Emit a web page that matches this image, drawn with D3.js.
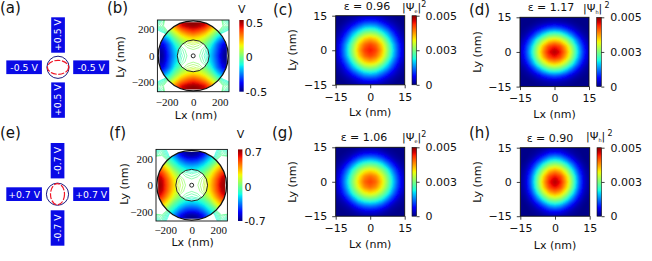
<!DOCTYPE html>
<html>
<head>
<meta charset="utf-8">
<title>Quantum dot gate potentials and wave functions</title>
<script src="https://d3js.org/d3.v7.min.js"></script>
<style>
  html, body { margin: 0; padding: 0; background: #fff; }
  svg { display: block; }
  text { font-family: "DejaVu Sans", sans-serif; fill: #111; }
  .serif text { font-family: "Liberation Serif", serif; }
</style>
</head>
<body>
<svg id="chart" width="652" height="261"></svg>
<script>
// |psi|^2, in units of 0.001, one quadrant only
// rows go 0, 2.5 ... 15 nm in Ly, columns 0, 2.5 ... 15 nm in Lx
let psiC = [
  [4.55, 4.30, 3.65, 2.70, 1.71, 0.85, 0.30],
  [4.30, 4.05, 3.45, 2.55, 1.60, 0.80, 0.28],
  [3.65, 3.45, 2.90, 2.05, 1.25, 0.59, 0.21],
  [2.70, 2.55, 2.05, 1.50, 0.85, 0.36, 0.15],
  [1.71, 1.60, 1.25, 0.85, 0.46, 0.22, 0.08],
  [0.85, 0.80, 0.59, 0.36, 0.22, 0.10, 0.04],
  [0.30, 0.28, 0.21, 0.15, 0.08, 0.04, 0.02]
];
let psiD = [
  [4.85, 4.58, 3.85, 2.89, 1.82, 0.87, 0.29],
  [4.49, 4.24, 3.56, 2.67, 1.61, 0.78, 0.26],
  [3.55, 3.35, 2.82, 2.06, 1.21, 0.51, 0.19],
  [2.40, 2.27, 1.80, 1.22, 0.65, 0.26, 0.11],
  [1.17, 1.05, 0.81, 0.50, 0.26, 0.13, 0.06],
  [0.35, 0.32, 0.25, 0.17, 0.10, 0.05, 0.03],
  [0.11, 0.10, 0.08, 0.06, 0.04, 0.03, 0.02]
];
let psiG = [
  [4.32, 4.09, 3.45, 2.62, 1.69, 0.84, 0.29],
  [4.05, 3.83, 3.23, 2.46, 1.54, 0.76, 0.26],
  [3.34, 3.15, 2.67, 2.03, 1.21, 0.57, 0.20],
  [2.41, 2.29, 1.93, 1.32, 0.74, 0.31, 0.13],
  [1.41, 1.31, 1.06, 0.67, 0.30, 0.16, 0.07],
  [0.58, 0.55, 0.42, 0.24, 0.14, 0.07, 0.04],
  [0.18, 0.17, 0.13, 0.08, 0.06, 0.04, 0.02]
];
let psiH = [
  [4.85, 4.51, 3.63, 2.52, 1.31, 0.45, 0.14],
  [4.56, 4.24, 3.41, 2.37, 1.21, 0.41, 0.13],
  [3.80, 3.53, 2.84, 1.88, 0.93, 0.31, 0.11],
  [2.79, 2.60, 2.00, 1.25, 0.57, 0.19, 0.07],
  [1.73, 1.55, 1.09, 0.62, 0.26, 0.10, 0.04],
  [0.77, 0.69, 0.45, 0.25, 0.13, 0.06, 0.03],
  [0.24, 0.22, 0.16, 0.11, 0.07, 0.03, 0.02]
];

// gate potential in V, one quadrant, rows 0, 45 ... 270 nm in Ly, columns same in Lx
let potB = [
  [ 0.00, -0.02, -0.08, -0.18, -0.31, -0.46, -0.50],
  [ 0.02,  0.00, -0.06, -0.16, -0.29, -0.44, -0.48],
  [ 0.08,  0.06,  0.00, -0.10, -0.26, -0.38, -0.42],
  [ 0.19,  0.16,  0.10,  0.00, -0.14, -0.26, -0.30],
  [ 0.36,  0.32,  0.25,  0.13,  0.00, -0.10, -0.15],
  [ 0.49,  0.47,  0.42,  0.30,  0.15, -0.02, -0.05],
  [ 0.50,  0.50,  0.45,  0.32,  0.16, -0.06, -0.12]
];
let potF = [
  [ 0.00,  0.03,  0.11,  0.26,  0.45,  0.66,  0.70],
  [-0.03,  0.00,  0.09,  0.23,  0.43,  0.63,  0.68],
  [-0.11, -0.08,  0.00,  0.14,  0.33,  0.52,  0.60],
  [-0.25, -0.22, -0.14, -0.02,  0.18,  0.35,  0.42],
  [-0.44, -0.41, -0.31, -0.16, -0.03,  0.16,  0.24],
  [-0.66, -0.62, -0.50, -0.32, -0.15, -0.04, -0.08],
  [-0.70, -0.68, -0.55, -0.38, -0.20, -0.10, -0.18]
];

let psiTicks = [-15, 0, 15];
let potTicks = [-200, 0, 200];
let psiBarTicks = [0, 2.5, 5];
let psiBarLabels = ["0", "0.003", "0.005"];
let linesB = [-0.14, -0.115, -0.092, -0.069, -0.046, -0.023, 0.023, 0.046, 0.069, 0.092, 0.115, 0.14];
let linesF = [-0.2, -0.165, -0.13, -0.1, -0.065, -0.033, 0.033, 0.065, 0.1, 0.13, 0.165, 0.2];
let cornerB = [-0.115, -0.104, -0.093, -0.082, -0.071, -0.06, -0.049, -0.038, -0.027, -0.016];
let cornerF = [-0.17, -0.155, -0.14, -0.125, -0.11, -0.095, -0.08, -0.065, -0.05, -0.035];

// jet colormap
let jet = d3.scaleLinear()
  .domain([0, 0.11, 0.125, 0.35, 0.375, 0.64, 0.66, 0.89, 0.91, 1])
  .range(["#00007f", "#0000f1", "#0000ff", "#00e5f8", "#14ffe2", "#eeff08", "#ffea00", "#ff1e00", "#e80000", "#7f0000"])
  .clamp(true);

let svg = d3.select("#chart");
let defs = svg.append("defs");
defs.append("filter").attr("id", "soft")
  .attr("x", "-5%").attr("y", "-5%").attr("width", "110%").attr("height", "110%")
  .append("feGaussianBlur").attr("stdDeviation", 0.9);
let grad = defs.append("linearGradient").attr("id", "jetbar")
  .attr("x1", 0).attr("x2", 0).attr("y1", 1).attr("y2", 0);
d3.range(0, 1.001, 0.025).forEach(t => {
  grad.append("stop").attr("offset", t).attr("stop-color", jet(t));
});

// quadrant -> full grid, flat array for d3.contours
function mirror(quad) {
  let n = quad.length - 1, out = [];
  for (let j = -n; j <= n; j++) {
    for (let i = -n; i <= n; i++) out.push(quad[Math.abs(j)][Math.abs(i)]);
  }
  return out;
}

// contour units have node k sitting at k + 0.5
function gridPath(x, y, lim, n) {
  let size = 2 * n + 1, step = 2 * lim / (size - 1);
  return d3.geoPath(d3.geoTransform({
    point(a, b) {
      this.stream.point(x(-lim + step * (a - 0.5)), y(lim - step * (b - 0.5)));
    }
  }));
}

function axes(g, x, y, ticks, opt) {
  let xa = g.append("g").attr("transform", "translate(0," + y.range()[0] + ")")
    .call(d3.axisBottom(x).tickValues(ticks).tickFormat(d3.format("d")).tickSizeOuter(0)
      .tickSize(opt.tick).tickPadding(opt.padX));
  let ya = g.append("g").attr("transform", "translate(" + x.range()[0] + ",0)")
    .call(d3.axisLeft(y).tickValues(ticks).tickFormat(d3.format("d")).tickSizeOuter(0)
      .tickSize(opt.tick).tickPadding(opt.padY));
  [xa, ya].forEach(a => {
    a.select(".domain").remove();
    a.selectAll("text").attr("font-size", 11).attr("font-family", null);
    a.selectAll("line").attr("stroke", "#111").attr("stroke-width", 0.8);
  });
  if (opt.serif) { xa.attr("class", "serif"); ya.attr("class", "serif"); }
}

function frame(g, x, y) {
  g.append("rect")
    .attr("x", x.range()[0]).attr("y", y.range()[1])
    .attr("width", x.range()[1] - x.range()[0]).attr("height", y.range()[0] - y.range()[1])
    .attr("fill", "none").attr("stroke", "#111").attr("stroke-width", 0.9);
}

function axisTitles(x0, yL, xB, yB) {
  svg.append("text").attr("x", xB).attr("y", yB).attr("text-anchor", "middle")
    .attr("font-size", 11).text("Lx (nm)");
  svg.append("text").attr("transform", "translate(" + x0 + "," + yL + ") rotate(-90)")
    .attr("text-anchor", "middle").attr("font-size", 11).text("Ly (nm)");
}

// wave function panel
function psiPanel(p) {
  let x = d3.scaleLinear().domain([-15, 15]).range([p.x0, p.x1]);
  let y = d3.scaleLinear().domain([-15, 15]).range([p.y1, p.y0]);
  let id = "clip" + p.id;
  defs.append("clipPath").attr("id", id).append("rect")
    .attr("x", p.x0).attr("y", p.y0).attr("width", p.x1 - p.x0).attr("height", p.y1 - p.y0);

  let g = svg.append("g");
  let heat = g.append("g").attr("clip-path", "url(#" + id + ")").append("g").attr("filter", "url(#soft)");
  let n = p.data.length - 1;
  let path = gridPath(x, y, 15, n);
  let color = d3.scaleLinear().domain([0, 5]).range([0, 1]);
  heat.append("rect").attr("x", p.x0 - 4).attr("y", p.y0 - 4)
    .attr("width", p.x1 - p.x0 + 8).attr("height", p.y1 - p.y0 + 8).attr("fill", jet(0.01));
  let levels = d3.range(0.05, 5, 0.05);
  let cont = d3.contours().size([2 * n + 1, 2 * n + 1]).thresholds(levels)(mirror(p.data));
  heat.selectAll("path").data(cont).join("path")
    .attr("d", path).attr("fill", d => jet(color(d.value)));

  axes(g, x, y, psiTicks, { tick: 3.5, padX: 4.5, padY: 5 });
  frame(g, x, y);

  // colorbar
  let cx = p.bar;
  let bar = d3.scaleLinear().domain([0, 5]).range([p.y1, p.y0]);
  g.append("rect").attr("x", cx).attr("y", p.y0).attr("width", 4.6).attr("height", p.y1 - p.y0)
    .attr("fill", "url(#jetbar)").attr("stroke", "#111").attr("stroke-width", 0.6);
  let ax = g.append("g").attr("transform", "translate(" + (cx + 4.6) + ",0)")
    .call(d3.axisRight(bar).tickValues(psiBarTicks).tickFormat((d, i) => psiBarLabels[i])
      .tickSizeOuter(0).tickSize(3).tickPadding(6));
  ax.select(".domain").remove();
  ax.selectAll("text").attr("font-size", 11);
  ax.selectAll("line").attr("stroke", "#111").attr("stroke-width", 0.8);

  axisTitles(p.lyX, p.lyY, (p.x0 + p.x1) / 2, p.lxY);

  svg.append("text").attr("x", p.titleX).attr("y", p.titleY).attr("text-anchor", "middle")
    .attr("font-size", 11).text(p.title);
  let t = svg.append("text").attr("x", p.psiX).attr("y", p.psiY).attr("font-size", 11);
  t.append("tspan").text("|Ψ");
  t.append("tspan").attr("font-size", 5).attr("dy", 2).text(p.sub);
  t.append("tspan").attr("dy", -2).text("|" + (p.gap ? "\u2009" : ""));
  t.append("tspan").attr("font-size", 8).attr("dy", -4).text("2");
}

// gate potential panel
function potPanel(p) {
  let lim = 270;
  let x = d3.scaleLinear().domain([-lim, lim]).range([p.x0, p.x1]);
  let y = d3.scaleLinear().domain([-lim, lim]).range([p.y1, p.y0]);
  let k = (p.x1 - p.x0) / (2 * lim);
  let cx = x(0), cy = y(0);
  let R = 264 * k, r = 120 * k, dot = 15 * k;
  let circle = rr => "M" + (cx - rr) + "," + cy + "a" + rr + "," + rr + " 0 1,0 " + (2 * rr) + ",0a" + rr + "," + rr + " 0 1,0 " + (-2 * rr) + ",0Z";
  let box = "M" + p.x0 + "," + p.y0 + "H" + p.x1 + "V" + p.y1 + "H" + p.x0 + "Z";

  defs.append("clipPath").attr("id", "fill" + p.id).append("path")
    .attr("clip-rule", "evenodd").attr("d", circle(R) + circle(r));
  defs.append("clipPath").attr("id", "inner" + p.id).append("path").attr("d", circle(r));
  defs.append("clipPath").attr("id", "outer" + p.id).append("path")
    .attr("clip-rule", "evenodd").attr("d", box + circle(R));

  let g = svg.append("g");
  let n = p.data.length - 1;
  let path = gridPath(x, y, lim, n);
  let grid = mirror(p.data);
  let color = d3.scaleLinear().domain([-p.vmax, p.vmax]).range([0, 1]);
  let size = [2 * n + 1, 2 * n + 1];

  let heat = g.append("g").attr("clip-path", "url(#fill" + p.id + ")").append("g").attr("filter", "url(#soft)");
  heat.append("rect").attr("x", p.x0).attr("y", p.y0)
    .attr("width", p.x1 - p.x0).attr("height", p.y1 - p.y0).attr("fill", jet(0));
  let levels = d3.range(-p.vmax, p.vmax, p.vmax / 40);
  heat.selectAll("path").data(d3.contours().size(size).thresholds(levels)(grid)).join("path")
    .attr("d", path).attr("fill", d => jet(color(d.value)));

  g.append("g").attr("clip-path", "url(#inner" + p.id + ")")
    .selectAll("path").data(d3.contours().size(size).thresholds(p.lines)(grid)).join("path")
    .attr("d", path).attr("fill", "none")
    .attr("stroke", d => jet(color(d.value))).attr("stroke-width", 0.7);
  g.append("g").attr("clip-path", "url(#outer" + p.id + ")")
    .selectAll("path").data(d3.contours().size(size).thresholds(p.corner)(grid)).join("path")
    .attr("d", path).attr("fill", "none")
    .attr("stroke", d => jet(color(d.value))).attr("stroke-width", 0.6);

  // uncovered crescents at the gates, between the fill and the big circle
  [0, 90, 180, 270].forEach(a => {
    let a0 = (a - 16) * Math.PI / 180, a1 = (a + 16) * Math.PI / 180;
    let px = t => cx + R * Math.cos(t), py = t => cy + R * Math.sin(t);
    g.append("path")
      .attr("d", "M" + px(a0) + "," + py(a0) + "A" + R + "," + R + " 0 0,1 " + px(a1) + "," + py(a1) + "Z")
      .attr("fill", "#fff");
  });

  [R, r, dot].forEach((rr, i) => {
    g.append("circle").attr("cx", cx).attr("cy", cy).attr("r", rr).attr("fill", "none")
      .attr("stroke", "#111").attr("stroke-width", i == 0 ? 1.3 : 0.9);
  });
  frame(g, x, y);
  axes(g, x, y, potTicks, { tick: 0, padX: p.padX, padY: 3, serif: true });
  axisTitles(p.lyX, p.lyY, p.lxX, p.lxY);

  // colorbar
  g.append("rect").attr("x", p.bar).attr("y", p.y0).attr("width", 4.4).attr("height", p.y1 - p.y0)
    .attr("fill", "url(#jetbar)");
  let bar = d3.scaleLinear().domain([-p.vmax, p.vmax]).range([p.y1, p.y0 + 2.7]);
  let ax = g.append("g").attr("transform", "translate(" + (p.bar + 4.4) + ",0)")
    .call(d3.axisRight(bar).tickValues([-p.vmax, 0, p.vmax]).tickFormat(d => d == 0 ? "0" : String(d))
      .tickSize(0).tickPadding(2));
  ax.select(".domain").remove();
  ax.selectAll("text").attr("font-size", 11);
  svg.append("text").attr("x", p.bar + 2.5).attr("y", p.vY).attr("text-anchor", "middle")
    .attr("font-size", 11).text("V");
}

// schematic with the four gates
function gatePanel(p) {
  let g = svg.append("g");
  let gates = [
    { x: p.cx - 6.8, y: p.top, w: 13.7, h: 35.4, rot: true, label: p.vert },
    { x: p.cx - 6.8, y: p.bottom, w: 13.7, h: 35.4, rot: true, label: p.vert },
    { x: 6.3, y: p.cy - 6.9, w: 35.6, h: 13.7, rot: false, label: p.horiz },
    { x: 73.2, y: p.cy - 6.9, w: 36, h: 13.7, rot: false, label: p.horiz }
  ];
  gates.forEach(d => {
    g.append("rect").attr("x", d.x).attr("y", d.y).attr("width", d.w).attr("height", d.h).attr("fill", "#0a0ae6");
    let mx = d.x + d.w / 2, my = d.y + d.h / 2;
    g.append("text").attr("transform", "translate(" + mx + "," + my + ")" + (d.rot ? " rotate(-90)" : ""))
      .attr("text-anchor", "middle").attr("dy", "0.36em").attr("font-size", 9.3)
      .style("fill", "#fff").text(d.label);
  });
  g.append("circle").attr("cx", p.cx).attr("cy", p.cy).attr("r", 11.1)
    .attr("fill", "none").attr("stroke", "#1a1a80").attr("stroke-width", 1);
  g.append("ellipse").attr("cx", p.cx).attr("cy", p.cy).attr("rx", p.rx).attr("ry", p.ry)
    .attr("fill", "none").attr("stroke", "#f01525").attr("stroke-width", 1.2).attr("stroke-dasharray", "6,1.6");
}

gatePanel({ cx: 58, cy: 67.3, top: 17.3, bottom: 82.4, rx: 10.6, ry: 7, vert: "+0.5 V", horiz: "-0.5 V" });
gatePanel({ cx: 57.5, cy: 194.2, top: 143, bottom: 210.3, rx: 7, ry: 10.6, vert: "-0.7 V", horiz: "+0.7 V" });

potPanel({ id: "b", data: potB, lines: linesB, corner: cornerB, vmax: 0.5, x0: 157.4, x1: 229, y0: 20, y1: 91.7, bar: 239.3, padX: 6.5,
  lyX: 124, lyY: 57, lxX: 196, lxY: 119, vY: 12.5 });
potPanel({ id: "f", data: potF, lines: linesF, corner: cornerF, vmax: 0.7, x0: 156, x1: 227.4, y0: 149.4, y1: 221, bar: 238, padX: 5,
  lyX: 128, lyY: 184, lxX: 192.7, lxY: 245.7, vY: 138 });

psiPanel({ id: "c", data: psiC, x0: 335.7, x1: 404.7, y0: 15.7, y1: 84.8, bar: 412, lyX: 296, lyY: 50, lxY: 116,
  title: "ε = 0.96", titleX: 367, titleY: 10, sub: "e", psiX: 402, psiY: 11, gap: false });
psiPanel({ id: "d", data: psiD, x0: 520, x1: 589, y0: 17.3, y1: 86.6, bar: 596.7, lyX: 481, lyY: 52, lxY: 118,
  title: "ε = 1.17", titleX: 551, titleY: 11, sub: "h", psiX: 583, psiY: 12, gap: true });
psiPanel({ id: "g", data: psiG, x0: 335.7, x1: 404.7, y0: 147.3, y1: 216.2, bar: 412, lyX: 296, lyY: 182, lxY: 248,
  title: "ε = 1.06", titleX: 364, titleY: 141, sub: "e", psiX: 402, psiY: 141, gap: false });
psiPanel({ id: "h", data: psiH, x0: 520.3, x1: 589.7, y0: 147.7, y1: 216.2, bar: 597, lyX: 481, lyY: 182, lxY: 249,
  title: "ε = 0.90", titleX: 550, titleY: 142, sub: "h", psiX: 586, psiY: 140, gap: true });

// panel letters
let letters = ["(a)", "(b)", "(c)", "(d)", "(e)", "(f)", "(g)", "(h)"];
let letterX = [0, 107, 273, 469, 0, 109, 272, 469];
let letterY = [13, 13, 15, 15, 138, 138, 138, 138];
letters.forEach((d, i) => {
  svg.append("text").attr("x", letterX[i]).attr("y", letterY[i]).attr("font-size", 15).text(d);
});
</script>
</body>
</html>
